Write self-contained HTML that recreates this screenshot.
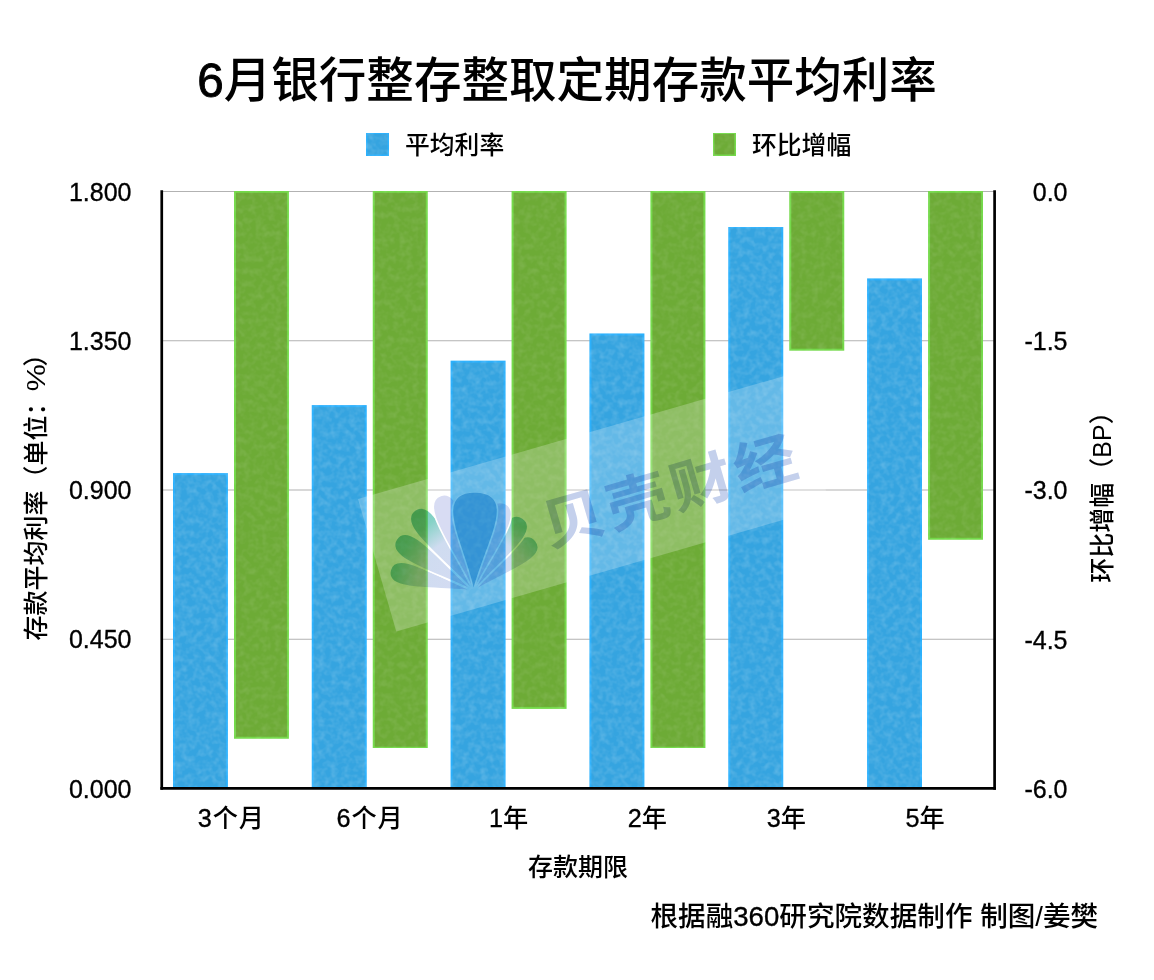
<!DOCTYPE html>
<html lang="zh-CN"><head><meta charset="utf-8"><title>6月银行整存整取定期存款平均利率</title>
<style>
html,body{margin:0;padding:0;background:#fff;}
body{width:1154px;height:980px;overflow:hidden;position:relative;font-family:"Liberation Sans","Noto Sans CJK SC",sans-serif;}
svg{position:absolute;left:0;top:0;display:block}
svg text{font-family:"Liberation Sans","Noto Sans CJK SC",sans-serif;fill:#000;font-weight:500}
</style></head><body>
<svg width="1154" height="980" viewBox="0 0 1154 980">
<rect width="1154" height="980" fill="#ffffff"/>

<line x1="161.5" x2="994.5" y1="191.50" y2="191.50" stroke="#b2b2b2" stroke-width="1.2"/>
<line x1="161.5" x2="994.5" y1="340.75" y2="340.75" stroke="#b2b2b2" stroke-width="1.2"/>
<line x1="161.5" x2="994.5" y1="490.00" y2="490.00" stroke="#b2b2b2" stroke-width="1.2"/>
<line x1="161.5" x2="994.5" y1="639.25" y2="639.25" stroke="#b2b2b2" stroke-width="1.2"/>
<line x1="161.5" x2="994.5" y1="788.50" y2="788.50" stroke="#b2b2b2" stroke-width="1.2"/>
<defs><filter id="txb" x="0" y="0" width="100%" height="100%" color-interpolation-filters="sRGB"><feTurbulence type="fractalNoise" baseFrequency="0.16" numOctaves="2" seed="7" result="n"/><feColorMatrix in="n" type="matrix" values="0 0 0 0 1  0 0 0 0 1  0 0 0 0 1  0.34 0 0 0 -0.125" result="w"/><feComposite in="w" in2="SourceGraphic" operator="in" result="wc"/><feMerge><feMergeNode in="SourceGraphic"/><feMergeNode in="wc"/></feMerge></filter><filter id="txg" x="0" y="0" width="100%" height="100%" color-interpolation-filters="sRGB"><feTurbulence type="fractalNoise" baseFrequency="0.16" numOctaves="2" seed="11" result="n"/><feColorMatrix in="n" type="matrix" values="0 0 0 0 1  0 0 0 0 1  0 0 0 0 1  0.2 0 0 0 -0.075" result="w"/><feComposite in="w" in2="SourceGraphic" operator="in" result="wc"/><feMerge><feMergeNode in="SourceGraphic"/><feMergeNode in="wc"/></feMerge></filter></defs>
<g id="bars-blue" filter="url(#txb)">
<rect x="173.92" y="474.08" width="53" height="313.42" fill="#35a4e0" stroke="#2bb0fc" stroke-width="2"/>
<rect x="312.75" y="406.09" width="53" height="381.41" fill="#35a4e0" stroke="#2bb0fc" stroke-width="2"/>
<rect x="451.58" y="361.65" width="53" height="425.85" fill="#35a4e0" stroke="#2bb0fc" stroke-width="2"/>
<rect x="590.42" y="334.45" width="53" height="453.05" fill="#35a4e0" stroke="#2bb0fc" stroke-width="2"/>
<rect x="729.25" y="227.33" width="53" height="560.17" fill="#35a4e0" stroke="#2bb0fc" stroke-width="2"/>
<rect x="868.08" y="279.40" width="53" height="508.10" fill="#35a4e0" stroke="#2bb0fc" stroke-width="2"/>
</g>
<g id="bars-green" filter="url(#txg)">
<rect x="234.92" y="191.80" width="53" height="545.95" fill="#6dab36" stroke="#74d94a" stroke-width="2"/>
<rect x="373.75" y="191.80" width="53" height="555.90" fill="#6dab36" stroke="#74d94a" stroke-width="2"/>
<rect x="512.58" y="191.80" width="53" height="516.10" fill="#6dab36" stroke="#74d94a" stroke-width="2"/>
<rect x="651.42" y="191.80" width="53" height="555.90" fill="#6dab36" stroke="#74d94a" stroke-width="2"/>
<rect x="790.25" y="191.80" width="53" height="157.90" fill="#6dab36" stroke="#74d94a" stroke-width="2"/>
<rect x="929.08" y="191.80" width="53" height="346.95" fill="#6dab36" stroke="#74d94a" stroke-width="2"/>
</g>
<g id="wm">
<g transform="translate(358,499) rotate(-16.1)"><rect x="0" y="0" width="452" height="138" fill="#ffffff" fill-opacity="0.23"/></g>
<g style="mix-blend-mode:multiply">
<defs><linearGradient id="pg" gradientUnits="userSpaceOnUse" x1="0" y1="0" x2="0" y2="-95"><stop offset="0" stop-color="#d6dbf3"/><stop offset="0.6" stop-color="#cfdcf0"/><stop offset="0.85" stop-color="#86d2c6"/><stop offset="1" stop-color="#7ccfc0"/></linearGradient></defs>
<path transform="translate(473.6,591) rotate(-76)" d="M0,0 C-4.8,-38.7 -22.8,-86.0 0,-86 C22.8,-86.0 4.8,-38.7 0,0Z" fill="url(#pg)" stroke="#ffffff" stroke-width="1.6"/>
<path transform="translate(473.6,591) rotate(-56)" d="M0,0 C-5.0,-41.9 -23.8,-93.0 0,-93 C23.8,-93.0 5.0,-41.9 0,0Z" fill="url(#pg)" stroke="#ffffff" stroke-width="1.6"/>
<path transform="translate(473.6,591) rotate(-36)" d="M0,0 C-5.2,-45.0 -24.7,-100.0 0,-100 C24.7,-100.0 5.2,-45.0 0,0Z" fill="url(#pg)" stroke="#ffffff" stroke-width="1.6"/>
<path transform="translate(473.6,591) rotate(51)" d="M0,0 C-4.8,-36.0 -22.8,-80.0 0,-80 C22.8,-80.0 4.8,-36.0 0,0Z" fill="url(#pg)" stroke="#ffffff" stroke-width="1.6"/>
<path transform="translate(473.6,591) rotate(34)" d="M0,0 C-5.0,-39.6 -23.8,-88.0 0,-88 C23.8,-88.0 5.0,-39.6 0,0Z" fill="url(#pg)" stroke="#ffffff" stroke-width="1.6"/>
<path transform="translate(473.6,591) rotate(-19)" d="M0,0 C-5.2,-45.5 -24.7,-101.0 0,-101 C24.7,-101.0 5.2,-45.5 0,0Z" fill="#d8dcf3" stroke="#ffffff" stroke-width="1.6"/>
<path transform="translate(473.6,591) rotate(19)" d="M0,0 C-5.2,-41.9 -24.7,-93.0 0,-93 C24.7,-93.0 5.2,-41.9 0,0Z" fill="#d3dcf3" stroke="#ffffff" stroke-width="1.6"/>
<path transform="translate(473.6,591) rotate(1)" d="M0,0 C-9.6,-44.6 -45.6,-99.0 0,-99 C45.6,-99.0 9.6,-44.6 0,0Z" fill="#84cbeb" stroke="#ffffff" stroke-width="1.6"/>
</g>
<text transform="translate(671,491) rotate(-16.1) scale(1.12,1)" x="0" y="20" font-size="56" letter-spacing="3.4" text-anchor="middle" style="font-weight:700;fill:#c4d0ec;mix-blend-mode:multiply">贝壳财经</text>
</g>
<line x1="161.75" x2="161.75" y1="190.3" y2="789.75" stroke="#000" stroke-width="2.7"/>
<line x1="994.6" x2="994.6" y1="190.3" y2="789.75" stroke="#000" stroke-width="2.7"/>
<line x1="160.4" x2="995.95" y1="788.4" y2="788.4" stroke="#000" stroke-width="2.7"/>
<text id="title" x="567.1" y="97" font-size="47.56" text-anchor="middle"><tspan stroke="#000" stroke-width="0.9">6</tspan>月银行整存整取定期存款平均利率</text>
<rect x="366.5" y="133" width="22" height="22.5" fill="#35a4e0" stroke="#2bb0fc" stroke-width="2" filter="url(#txb)"/>
<text id="lg1" x="405" y="153.8" font-size="24.8">平均利率</text>
<rect x="713.4" y="133" width="22" height="22.5" fill="#6dab36" stroke="#74d94a" stroke-width="2" filter="url(#txg)"/>
<text id="lg2" x="752" y="153.8" font-size="24.8">环比增幅</text>
<text class="yl" stroke="#000" stroke-width="0.35" x="131.5" y="200.70" font-size="25" text-anchor="end">1.800</text>
<text class="yr" stroke="#000" stroke-width="0.35" x="1067.5" y="200.80" font-size="25" text-anchor="end">0.0</text>
<text class="yl" stroke="#000" stroke-width="0.35" x="131.5" y="349.95" font-size="25" text-anchor="end">1.350</text>
<text class="yr" stroke="#000" stroke-width="0.35" x="1067.5" y="350.05" font-size="25" text-anchor="end">-1.5</text>
<text class="yl" stroke="#000" stroke-width="0.35" x="131.5" y="499.20" font-size="25" text-anchor="end">0.900</text>
<text class="yr" stroke="#000" stroke-width="0.35" x="1067.5" y="499.30" font-size="25" text-anchor="end">-3.0</text>
<text class="yl" stroke="#000" stroke-width="0.35" x="131.5" y="648.45" font-size="25" text-anchor="end">0.450</text>
<text class="yr" stroke="#000" stroke-width="0.35" x="1067.5" y="648.55" font-size="25" text-anchor="end">-4.5</text>
<text class="yl" stroke="#000" stroke-width="0.35" x="131.5" y="797.70" font-size="25" text-anchor="end">0.000</text>
<text class="yr" stroke="#000" stroke-width="0.35" x="1067.5" y="797.80" font-size="25" text-anchor="end">-6.0</text>
<text class="xc" x="231.32" y="826.6" font-size="25.2" letter-spacing="0.9" text-anchor="middle"><tspan stroke="#000" stroke-width="0.35">3</tspan>个月</text>
<text class="xc" x="370.15" y="826.6" font-size="25.2" letter-spacing="0.9" text-anchor="middle"><tspan stroke="#000" stroke-width="0.35">6</tspan>个月</text>
<text class="xc" x="508.58" y="826.6" font-size="25.2" text-anchor="middle"><tspan stroke="#000" stroke-width="0.35">1</tspan>年</text>
<text class="xc" x="647.42" y="826.6" font-size="25.2" text-anchor="middle"><tspan stroke="#000" stroke-width="0.35">2</tspan>年</text>
<text class="xc" x="786.25" y="826.6" font-size="25.2" text-anchor="middle"><tspan stroke="#000" stroke-width="0.35">3</tspan>年</text>
<text class="xc" x="925.08" y="826.6" font-size="25.2" text-anchor="middle"><tspan stroke="#000" stroke-width="0.35">5</tspan>年</text>
<text id="xt" x="578" y="876" font-size="25" text-anchor="middle">存款期限</text>
<text id="foot" x="1098.2" y="926" font-size="27.6" text-anchor="end">根据融<tspan stroke="#000" stroke-width="0.35">360</tspan>研究院数据制作 制图/姜樊</text>
<g id="ylt" transform="translate(45,492) rotate(-90)"><text x="-148.6" y="0" font-size="25">存款平均利率（单位：</text><text transform="translate(100.75,0) scale(1.22,1)" font-size="25">%</text><text x="125.5" y="0" font-size="25">）</text></g>
<text id="yrt" transform="translate(1111,491) rotate(-90)" font-size="25" text-anchor="middle">环比增幅（BP）</text>
</svg></body></html>
